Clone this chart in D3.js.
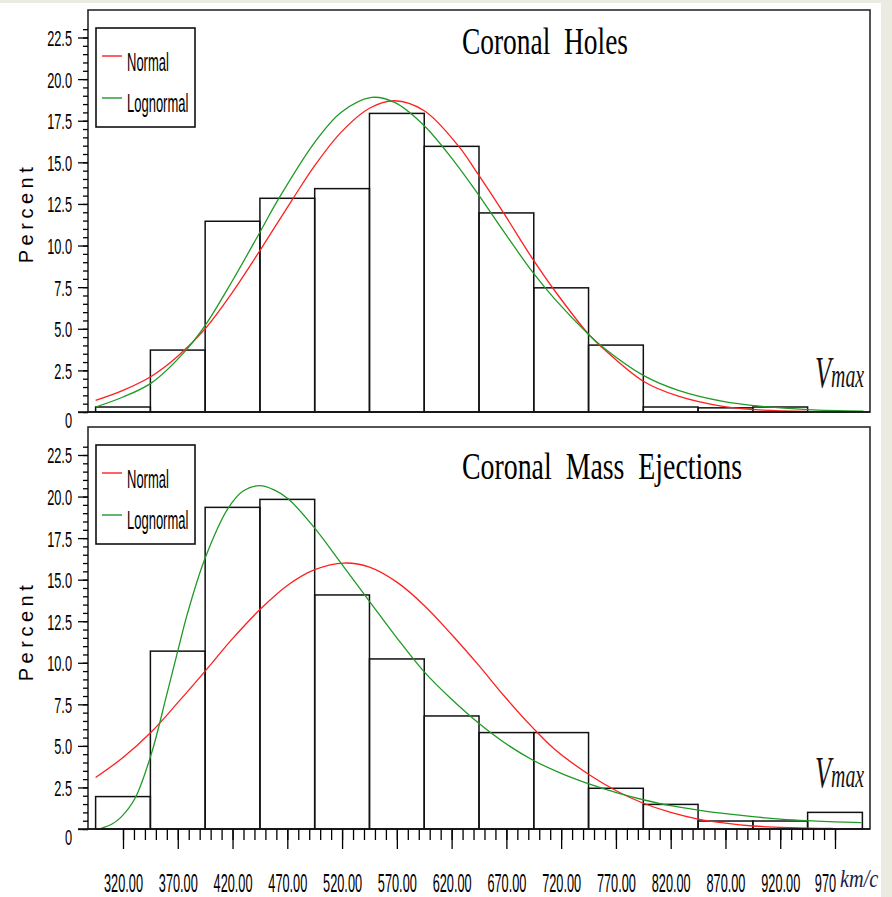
<!DOCTYPE html>
<html lang="en">
<head>
<meta charset="utf-8">
<script src="https://d3js.org/d3.v7.min.js"></script>
<style>
body { margin: 0; background: #fff; }
.tick line { stroke: #000; stroke-width: 1.3; }
.tick text { fill: #000; }
</style>
</head>
<body>
<script>

// Histogram bins (km/c), 50 wide, labelled by their centres
var binCenters = [320, 370, 420, 470, 520, 570, 620, 670, 720, 770, 820, 870, 920, 970];
var binWidth = 50;

// Percent of events per bin
var chPercent  = [0.3, 3.72, 11.46, 12.84, 13.42, 17.94, 15.96, 11.96, 7.46, 4.02, 0.3, 0.25, 0.3, 0];
var cmePercent = [1.95, 10.7, 19.35, 19.83, 14.08, 10.23, 6.8, 5.8, 5.8, 2.45, 1.48, 0.48, 0.48, 1.0];

// Fitted density curves, [km/c, percent]
var chNormal = [[295,0.7],[320,1.3],[346,2.15],[370,3.35],[395,5.0],[420,7.2],[445,9.7],[474,12.7],[495,14.8],
  [519,16.8],[545,18.25],[568,18.7],[595,18.1],[626,16.0],[644,14.3],[668,11.9],[694,9.2],[714,7.3],[746,4.6],
  [757,3.9],[795,1.85],[827,0.95],[869,0.32],[897,0.14],[944,0.04]];
var chLognormal = [[295,0.3],[320,0.9],[346,1.75],[376,3.6],[395,5.2],[420,7.9],[445,10.8],[462,12.8],[495,16.2],
  [519,18.0],[547,18.9],[568,18.6],[595,17.2],[623,15.0],[644,13.1],[668,10.8],[694,8.4],[714,6.8],[746,4.6],
  [757,3.95],[795,2.2],[827,1.3],[869,0.62],[897,0.38],[945,0.14],[996,0.05]];
var cmeNormal = [[295,3.1],[320,4.3],[346,5.85],[370,7.6],[395,9.5],[420,11.45],[445,13.2],[470,14.65],[495,15.6],
  [522,16.0],[545,15.75],[570,14.85],[595,13.45],[620,11.7],[644,9.9],[668,8.0],[694,6.1],[714,4.8],[746,3.25],
  [772,2.24],[795,1.55],[820,1.0],[845,0.6],[870,0.35],[895,0.18],[930,0.08],[968,0.03]];
var cmeLognormal = [[300,0.04],[310,0.3],[318,0.7],[331,1.85],[346,4.55],[360,8.1],[370,10.7],[379,13.0],
  [395,16.3],[416,19.3],[430,20.35],[445,20.66],[458,20.4],[471,19.85],[495,18.1],[519,16.0],[545,13.7],
  [570,11.5],[595,9.45],[620,7.8],[644,6.4],[668,5.2],[694,4.15],[720,3.35],[746,2.7],[772,2.16],[795,1.76],
  [820,1.4],[845,1.14],[870,0.92],[895,0.74],[920,0.6],[945,0.5],[970,0.43],[994,0.38]];

// Axis ticks
var yMajorTicks = [0, 2.5, 5, 7.5, 10, 12.5, 15, 17.5, 20, 22.5];
var yTickLabels = ["0", "2.5", "5.0", "7.5", "10.0", "12.5", "15.0", "17.5", "20.0", "22.5"];
var xMajorTicks = [320, 370, 420, 470, 520, 570, 620, 670, 720, 770, 820, 870, 920, 970];
var xTickLabels = ["320.00", "370.00", "420.00", "470.00", "520.00", "570.00", "620.00", "670.00",
  "720.00", "770.00", "820.00", "870.00", "920.00", "970"];

var width = 892, height = 897;
var left = 88, right = 870;
var sans = "'Liberation Sans', Arial, sans-serif";
var serif = "'Liberation Serif', 'Times New Roman', serif";
var redColor = "#ff1f1f", greenColor = "#1f9a26";

var svg = d3.select("body").append("svg")
  .attr("width", width)
  .attr("height", height);

// page edges
svg.append("rect").attr("x", 0).attr("y", 0).attr("width", width).attr("height", 3).attr("fill", "#ecebe1");
svg.append("rect").attr("x", 881).attr("y", 0).attr("width", width - 881).attr("height", height).attr("fill", "#ecebe1");

// shared speed axis
var x = d3.scaleLinear().domain([320, 970]).range([123, 835]);

var panels = [
  { title: "Coronal  Holes", titleLen: 166, titleY: 54, frameTop: 10, zero: 412, top: 37.5,
    bars: chPercent, normal: chNormal, lognormal: chLognormal, vmaxY: 387, labelY: 213 },
  { title: "Coronal  Mass  Ejections", titleLen: 280, titleY: 479, frameTop: 427, zero: 829, top: 455,
    bars: cmePercent, normal: cmeNormal, lognormal: cmeLognormal, vmaxY: 787, labelY: 631 }
];

panels.forEach(function(p) {
  var y = d3.scaleLinear().domain([0, 22.5]).range([p.zero, p.top]);
  var g = svg.append("g");

  // histogram bars
  g.selectAll("rect.bar")
    .data(binCenters.map(function(c, i) { return { c: c, v: p.bars[i] }; }))
    .enter().append("rect")
    .attr("class", "bar")
    .attr("x", function(d) { return x(d.c - binWidth / 2); })
    .attr("width", function(d) { return x(d.c + binWidth / 2) - x(d.c - binWidth / 2); })
    .attr("y", function(d) { return y(d.v); })
    .attr("height", function(d) { return y(0) - y(d.v); })
    .attr("fill", "none")
    .attr("stroke", "#111")
    .attr("stroke-width", 1.5);

  // fitted curves
  var line = d3.line()
    .x(function(d) { return x(d[0]); })
    .y(function(d) { return y(d[1]); })
    .curve(d3.curveCatmullRom.alpha(0.5));

  g.append("path").attr("d", line(p.normal))
    .attr("fill", "none").attr("stroke", redColor).attr("stroke-width", 1.3);
  g.append("path").attr("d", line(p.lognormal))
    .attr("fill", "none").attr("stroke", greenColor).attr("stroke-width", 1.3);

  // frame
  g.append("rect")
    .attr("x", left).attr("y", p.frameTop)
    .attr("width", right - left).attr("height", p.zero - p.frameTop)
    .attr("fill", "none").attr("stroke", "#2a2a2a").attr("stroke-width", 1.6);

  // y axis: minor then major ticks
  g.append("g")
    .attr("transform", "translate(" + left + ",0)")
    .call(d3.axisLeft(y).tickValues(d3.range(0, 23.01, 0.5)).tickSize(5).tickSizeOuter(0).tickFormat(""))
    .call(function(a) { a.select(".domain").remove(); });

  var yAxis = g.append("g")
    .attr("transform", "translate(" + left + ",0)")
    .call(d3.axisLeft(y).tickValues(yMajorTicks).tickSize(10).tickSizeOuter(0)
      .tickFormat(function(d, i) { return yTickLabels[i]; }))
    .call(function(a) { a.select(".domain").remove(); });

  yAxis.attr("font-family", sans).attr("font-size", 22);
  yAxis.selectAll("text")
    .attr("x", 0)
    .attr("dy", function(d) { return d === 0 ? "0.7em" : "0.36em"; })
    .attr("transform", "translate(-16,0) scale(0.58,1)");

  // title
  g.append("text")
    .attr("x", 462).attr("y", p.titleY)
    .attr("font-family", serif).attr("font-size", 37)
    .attr("textLength", p.titleLen).attr("lengthAdjust", "spacingAndGlyphs")
    .style("white-space", "pre")
    .attr("fill", "#000")
    .text(p.title);

  // legend
  var lx = 96, ly = p.frameTop + 18;
  g.append("rect").attr("x", lx).attr("y", ly).attr("width", 99).attr("height", 99)
    .attr("fill", "#fff").attr("stroke", "#111").attr("stroke-width", 1.6);
  [{ name: "Normal", color: redColor, dy: 28, ty: 43 },
   { name: "Lognormal", color: greenColor, dy: 70, ty: 84 }].forEach(function(e) {
    g.append("line").attr("x1", lx + 6).attr("x2", lx + 26)
      .attr("y1", ly + e.dy).attr("y2", ly + e.dy)
      .attr("stroke", e.color).attr("stroke-width", 1.4);
    g.append("text")
      .attr("transform", "translate(" + (lx + 31) + "," + (ly + e.ty) + ") scale(0.52,1)")
      .attr("font-family", sans).attr("font-size", 25).attr("fill", "#000")
      .text(e.name);
  });

  // variable name
  var vm = g.append("text")
    .attr("transform", "translate(815," + p.vmaxY + ") scale(0.6,1)")
    .attr("font-family", serif).attr("font-style", "italic").attr("fill", "#141414");
  vm.append("tspan").attr("font-size", 44).text("V");
  vm.append("tspan").attr("font-size", 33).text("max");

  // y axis title
  g.append("text")
    .attr("transform", "translate(33," + p.labelY + ") rotate(-90)")
    .attr("text-anchor", "middle")
    .attr("font-family", sans).attr("font-size", 20)
    .attr("letter-spacing", 4.5)
    .attr("fill", "#000")
    .text("Percent");
});

// speed axis under the lower panel
var xBase = panels[1].zero;
svg.append("g")
  .attr("transform", "translate(0," + xBase + ")")
  .call(d3.axisBottom(x).tickValues(d3.range(320, 971, 10)).tickSize(11).tickSizeOuter(0).tickFormat(""))
  .call(function(a) { a.select(".domain").remove(); });

var xAxis = svg.append("g")
  .attr("transform", "translate(0," + xBase + ")")
  .call(d3.axisBottom(x).tickValues(xMajorTicks).tickSize(20).tickSizeOuter(0)
    .tickFormat(function(d, i) { return xTickLabels[i]; }))
  .call(function(a) { a.select(".domain").remove(); });

xAxis.attr("font-family", sans).attr("font-size", 26);
xAxis.selectAll("text")
  .attr("y", 0).attr("dy", 0)
  .attr("transform", function(d, i) {
    var shift = i === xMajorTicks.length - 1 ? -10 : 0;
    return "translate(" + shift + ",63) scale(0.49,1)";
  });

// axis line extends under the y tick marks
panels.forEach(function(p) {
  svg.append("line").attr("x1", 78).attr("x2", right)
    .attr("y1", p.zero).attr("y2", p.zero)
    .attr("stroke", "#111").attr("stroke-width", 1.5);
});

// unit
svg.append("text")
  .attr("transform", "translate(840,887) scale(0.78,1)")
  .attr("font-family", serif).attr("font-style", "italic").attr("font-size", 26)
  .attr("fill", "#1c1c4a")
  .text("km/c");

</script>
</body>
</html>
